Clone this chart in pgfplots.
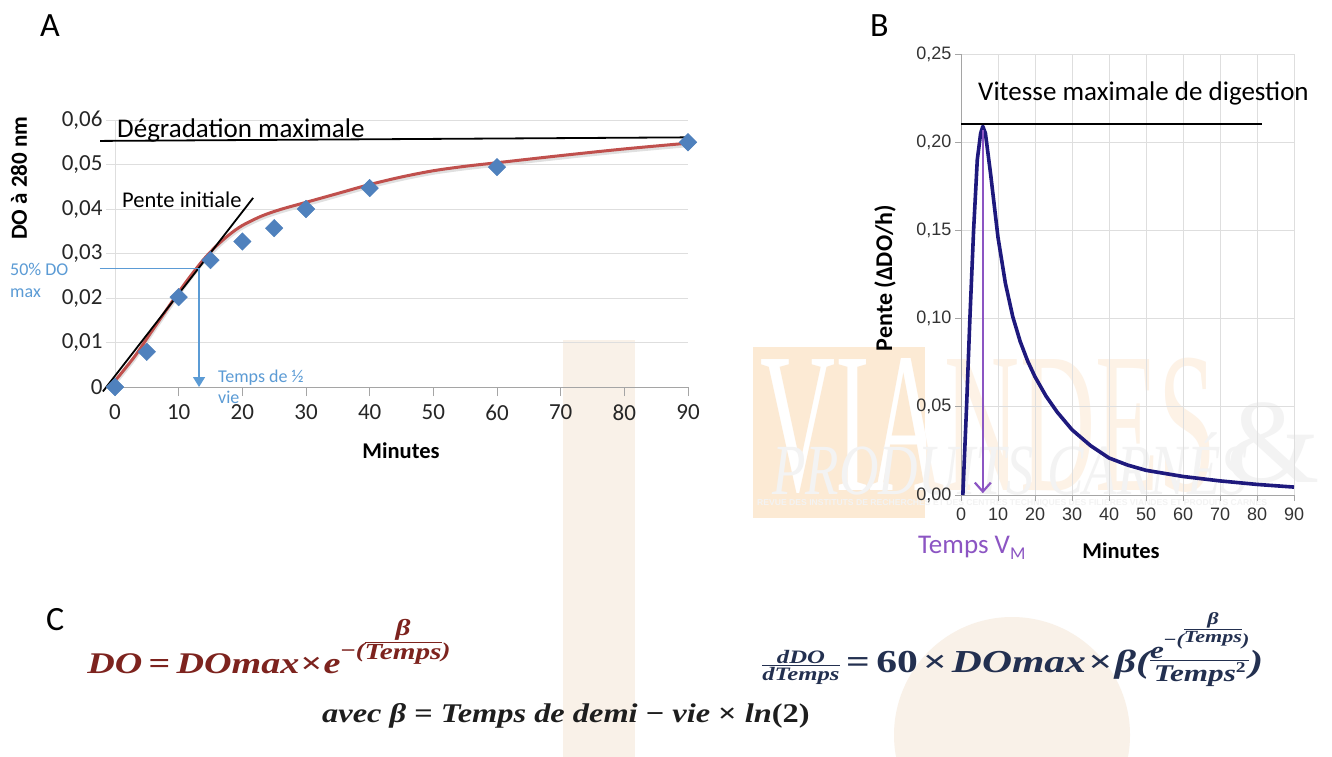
\RequirePackage{fix-cm}
\documentclass[border=0pt]{standalone}
\usepackage{pgfplots}
\pgfplotsset{compat=1.18}
\usepackage{fontspec}
\setmainfont{Carlito}
\newfontfamily\arial{Liberation Sans}
\newfontfamily\serifwm{Liberation Serif}
\newfontfamily\eqf{Liberation Serif}
\usetikzlibrary{arrows.meta}
\definecolor{exblue}{RGB}{79,129,189}
\definecolor{annblue}{RGB}{91,155,213}
\definecolor{fitred}{RGB}{192,80,77}
\definecolor{navyc}{RGB}{30,25,125}
\definecolor{purp}{RGB}{140,85,195}
\definecolor{gridg}{RGB}{222,222,222}
\definecolor{axg}{RGB}{165,165,165}
\definecolor{eqred}{RGB}{125,35,30}
\definecolor{eqblue}{RGB}{35,48,80}
\definecolor{eqblack}{RGB}{30,30,30}
\definecolor{wmbeige}{RGB}{249,241,232}
\definecolor{wmorange}{RGB}{252,234,212}
\definecolor{wmtext}{RGB}{253,242,230}
\definecolor{wmgray}{RGB}{243,243,243}
\newcommand{\fs}[1]{\fontsize{#1}{#1}\selectfont}
\newcommand{\eqit}{\eqf\bfseries\itshape}
\newcommand{\up}[1]{{\upshape #1}}
% text-mode fraction: #1 raise of denominator baseline, #2 numerator, #3 denominator
\newcommand{\fr}[3]{\begingroup\setbox0=\hbox{#2}\setbox2=\hbox{#3}\raise#1\vbox{\halign{\hfil##\hfil\cr\box0\cr\noalign{\kern1.3pt\hrule height 0.9pt\kern1.3pt}\box2\cr}}\endgroup}

\pgfplotstableread{
x y
0 0
5 0.0079
10 0.0202
15 0.0285
20 0.0327
25 0.0357
30 0.0400
40 0.0447
60 0.0494
90 0.0550
}\dataA

\pgfplotstableread{
x y
-0.8 0
3 0.0067
6 0.0130
10 0.0213
12 0.0252
14 0.0288
16 0.0318
18 0.0343
20 0.0363
23 0.0384
26 0.0399
30 0.0415
35 0.0435
40 0.0455
45 0.0472
50 0.0486
55 0.0496
60 0.0504
70 0.0520
80 0.0535
90 0.0548
}\fitA

\pgfplotstableread{
x y
0.5 0
1.5 0.050
2.4 0.100
3.4 0.150
4.4 0.190
5.3 0.205
5.9 0.209
6.6 0.205
8 0.182
10 0.146
12 0.120
14 0.101
16 0.087
18 0.076
20 0.067
23 0.056
26 0.047
30 0.037
35 0.028
40 0.021
45 0.017
50 0.014
60 0.0105
70 0.008
80 0.006
90 0.0045
}\dataB

\begin{document}
\begin{tikzpicture}
\path[use as bounding box] (0,0) rectangle (1332pt,-756pt);
\fill[white] (0,0) rectangle (1332pt,-756pt);
% ---- watermark (background) ----
\fill[wmbeige] (563pt,-340pt) rectangle (635pt,-760pt);
\fill[wmbeige] (1012pt,-735pt) circle (118pt);
\fill[wmorange] (753pt,-347pt) rectangle (925pt,-518pt);
\node[anchor=base west, inner sep=0, text=wmtext, font=\serifwm\fs{200}, xscale=0.52] at (760pt,-490pt) {VIANDES};
\begin{scope}
\clip (753pt,-347pt) rectangle (925pt,-518pt);
\node[anchor=base west, inner sep=0, text=white, font=\serifwm\fs{200}, xscale=0.52] at (760pt,-490pt) {VIANDES};
\end{scope}
\node[anchor=base west, inner sep=0, text=wmgray, font=\serifwm\fs{120}] at (1226pt,-482pt) {\&};
\node[anchor=base west, inner sep=0, text=wmgray, font=\serifwm\itshape\fs{72}, xscale=0.76] at (772pt,-494pt) {PRODUITS CARNÉS};
\node[anchor=base west, inner sep=0, text=wmgray, font=\arial\bfseries\fs{8.6}] at (757pt,-505pt) {REVUE DES INSTITUTS DE RECHERCHES ET DES CENTRES TECHNIQUES DES FILIÈRES VIANDES ET PRODUITS CARNÉS};

% ---- Panel A ----
\begin{axis}[
  at={(115pt,-387pt)}, anchor=south west,
  scale only axis, width=573pt, height=267pt,
  xmin=0, xmax=90, ymin=0, ymax=0.06,
  clip=false,
  scaled y ticks=false, scaled x ticks=false,
  /pgf/number format/assume math mode=true,
  axis x line=bottom, axis y line=left,
  axis line style={-, axg, line width=1pt},
  y axis line style={gridg},
  xtick={0,10,20,30,40,50,60,70,80,90},
  ytick={0,0.01,0.02,0.03,0.04,0.05,0.06},
  yticklabels={0,{0,01},{0,02},{0,03},{0,04},{0,05},{0,06}},
  tick align=outside, major tick length=9pt,
  x tick style={axg, line width=1pt},
  y tick style={gridg, line width=1pt},
  ymajorgrids, grid style={gridg, line width=1pt},
  ticklabel style={font=\fs{23}, text=black!85},
  xticklabel style={yshift=-5pt},
]
\addplot[black!12, line width=4pt, yshift=-2pt, smooth] table[x=x,y=y] {\fitA};
\addplot[fitred, line width=3pt, smooth] table[x=x,y=y] {\fitA};
\addplot[black, line width=1.8pt] coordinates {(-1.9,-0.001) (21.7,0.0425)};
\addplot[black, line width=1.8pt] coordinates {(-2.35,0.0553) (89.6,0.0561)};
\addplot[annblue, line width=1.3pt] coordinates {(-2.4,0.0267) (13.2,0.0267)};
\addplot[annblue, line width=1.3pt, -{Triangle[width=12pt,length=10pt]}] coordinates {(13.2,0.0267) (13.2,0)};
\addplot[only marks, mark=square*, mark size=6.2pt, mark options={rotate=45, fill=exblue, draw=exblue}] table[x=x,y=y] {\dataA};
\end{axis}

% ---- Panel B ----
\begin{axis}[
  at={(961pt,-495pt)}, anchor=south west,
  scale only axis, width=333pt, height=441pt,
  xmin=0, xmax=90, ymin=0, ymax=0.25,
  clip=false,
  scaled y ticks=false, scaled x ticks=false,
  /pgf/number format/assume math mode=true,
  axis x line=bottom, axis y line=left,
  axis line style={-, axg, line width=1pt},
  xtick={0,10,20,30,40,50,60,70,80,90},
  ytick={0,0.05,0.10,0.15,0.20,0.25},
  yticklabels={{0,00},{0,05},{0,10},{0,15},{0,20},{0,25}},
  tick align=outside, major tick length=6pt,
  tick style={axg, line width=1pt},
  grid=major, grid style={gridg, line width=0.8pt},
  ticklabel style={font=\arial\fs{18}, text=black!80},
  xticklabel style={yshift=-3pt},
]
\addplot[navyc, line width=3.6pt, line join=round] table[x=x,y=y] {\dataB};
\addplot[black, line width=1.8pt] coordinates {(0,0.2103) (81.4,0.2103)};
\addplot[purp, line width=2.2pt, -{Straight Barb[width=16pt,length=9pt,line width=2.2pt]}] coordinates {(5.9,0.207) (5.9,0.001)};
\end{axis}

% ---- texts ----
\node[anchor=base west, inner sep=0, font=\fs{34}] at (40pt,-36pt) {A};
\node[anchor=base west, inner sep=0, font=\fs{34}] at (870pt,-36pt) {B};
\node[anchor=base west, inner sep=0, font=\fs{34}] at (46pt,-630pt) {C};

\node[anchor=base west, inner sep=0, font=\fs{27}] at (117pt,-137pt) {Dégradation maximale};
\node[anchor=base west, inner sep=0, font=\fs{22.5}] at (122pt,-207pt) {Pente initiale};
\node[anchor=base west, inner sep=0, font=\fs{18}, text=annblue] at (10pt,-275pt) {50\% DO};
\node[anchor=base west, inner sep=0, font=\fs{18}, text=annblue] at (10pt,-297pt) {max};
\node[anchor=base west, inner sep=0, font=\fs{18}, text=annblue] at (218pt,-382pt) {Temps de ½};
\node[anchor=base west, inner sep=0, font=\fs{18}, text=annblue] at (218pt,-403pt) {vie};
\node[anchor=base, inner sep=0, font=\bfseries\fs{22.5}] at (401pt,-458pt) {Minutes};
\node[anchor=base, inner sep=0, rotate=90, font=\bfseries\fs{23}] at (27pt,-178pt) {DO à 280 nm};

\node[anchor=base west, inner sep=0, font=\fs{27}] at (978pt,-100pt) {Vitesse maximale de digestion};
\node[anchor=base, inner sep=0, rotate=90, font=\bfseries\fs{24}] at (892pt,-278pt) {Pente (ΔDO/h)};
\node[anchor=base, inner sep=0, font=\bfseries\fs{22.5}] at (1121pt,-558pt) {Minutes};
\node[anchor=base west, inner sep=0, font=\fs{27}, text=purp] at (918pt,-553pt) {Temps V\lower6pt\hbox{\fs{18}M}};

% ---- equations (text mode) ----
\node[anchor=base west, inner sep=0, text=eqred, xscale=1.27] at (87pt,-673pt) {\eqit\fs{30}DO\hspace{5pt}\up{=}\hspace{5pt}DOmax\hspace{1pt}\up{×}\hspace{1pt}e\raise16pt\hbox{\fs{21}\up{−}(}\fr{14pt}{\fs{23}β}{\fs{23}Temps}\raise16pt\hbox{\fs{21})}};

\node[anchor=base west, inner sep=0, text=eqblue, xscale=1.3] at (762pt,-672pt) {\eqit\fs{32}\fr{-8pt}{\fs{19}dDO}{\fs{19}dTemps}\hspace{5pt}\up{=}\hspace{5pt}\up{60}\hspace{4pt}\up{×}\hspace{4pt}DOmax\hspace{2pt}\up{×}\hspace{2pt}β(\fr{-9pt}{\fs{24}e\raise13pt\hbox{\fs{17}\up{−}(\fr{3pt}{\fs{17}β}{\fs{17}Temps})}}{\fs{24}Temps\raise9pt\hbox{\fs{15}\up{2}}})};

\node[anchor=base west, inner sep=0, text=eqblack, xscale=1.2] at (322pt,-722pt) {\eqit\fs{27}avec β \up{=} Temps de demi \up{−} vie \up{×} ln\up{(2)}};
\end{tikzpicture}
\end{document}
